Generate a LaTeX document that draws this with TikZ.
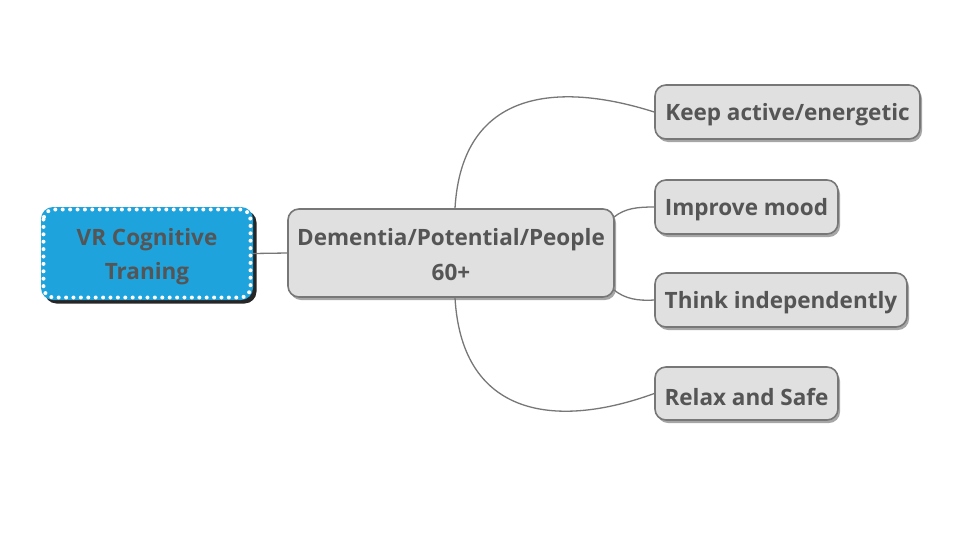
\documentclass[tikz,border=0pt]{standalone}
\usepackage{fontspec}
\setmainfont{Open Sans}
\usetikzlibrary{shadows}
\definecolor{txt}{HTML}{555555}
\definecolor{boxfill}{HTML}{E0E0E0}
\definecolor{boxline}{HTML}{777777}
\definecolor{vrblue}{HTML}{1FA3DC}
\definecolor{linec}{HTML}{777777}
\newcommand{\dn}[2][3pt]{\raisebox{-#1}[\height][\depth]{#2}}
\begin{document}
\begin{tikzpicture}[x=1pt,y=-1pt,
  topic/.style={rectangle, rounded corners=11pt, fill=boxfill, draw=boxline, line width=1.6pt,
    inner sep=0pt, align=center, text=txt, font=\fontsize{22.5}{34.5}\bfseries\selectfont,
    drop shadow={shadow xshift=2pt, shadow yshift=-3pt, fill=black, opacity=0.35}},
  conn/.style={draw=linec, line width=1.3pt}]
\useasboundingbox (0,0) rectangle (958,552);
\fill[white] (0,0) rectangle (958,552);
% root
\node[rectangle, rounded corners=12pt, fill=vrblue, inner sep=0pt,
  minimum width=212pt, minimum height=93pt, align=center, text=txt,
  font=\fontsize{22.5}{33.5}\bfseries\selectfont,
  drop shadow={shadow xshift=3.5pt, shadow yshift=-3.5pt, fill=black, opacity=0.85}] (v) at (147,253.5) {\dn{VR Cognitive}\\\dn{Traning}};
\draw[white, line width=4pt, line cap=round, dash pattern=on 0pt off 7.4pt, rounded corners=10pt]
  (43.5,209.5) rectangle (250.5,297.5);
\node[topic, minimum width=326pt, minimum height=88pt] (c) at (451,253) {\dn[1.5pt]{Dementia/Potential/People}\\\dn[1.5pt]{60+}};
\node[topic, minimum width=265pt, minimum height=54pt] (k) at (787.5,112) {\dn{Keep active/energetic}};
\node[topic, minimum width=183pt, minimum height=54pt] (i) at (746.5,207) {\dn{Improve mood}};
\node[topic, minimum width=252pt, minimum height=54pt] (t) at (781,300) {\dn{Think independently}};
\node[topic, minimum width=183pt, minimum height=53pt] (r) at (746.5,393.5) {\dn{Relax and Safe}};
% connectors
\coordinate (ck) at ([xshift=4pt]c.north);
\coordinate (cr) at ([xshift=4pt]c.south);
\coordinate (ci) at ([xshift=-1pt,yshift=-9pt]c.north east);
\coordinate (ct) at ([xshift=-1pt,yshift=8pt]c.south east);
\path[conn] (v.east) -- (c.west);
\path[conn] (ck) .. controls (462,88) and (560,82) .. (k.west);
\path[conn] (ci) .. controls (625,208) and (638,207) .. (i.west);
\path[conn] (ct) .. controls (625,299) and (638,301) .. (t.west);
\path[conn] (cr) .. controls (462,420) and (560,428) .. (r.west);
\end{tikzpicture}
\end{document}
